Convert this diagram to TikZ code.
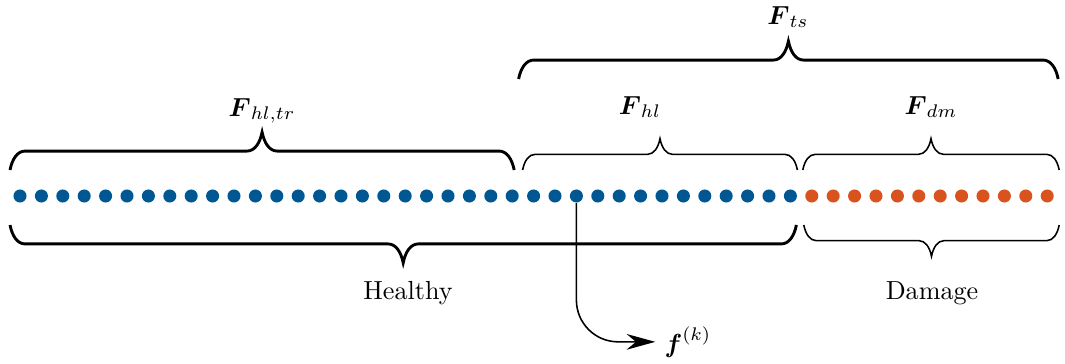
\documentclass[tikz,border=0pt]{standalone}
\usepackage{amsmath}
\usepackage{xcolor}
\usepackage{tikz}
\usetikzlibrary{arrows.meta, positioning, calc, decorations.pathreplacing}

\definecolor{hlblue}{RGB}{0,87,146}
\definecolor{dmorange}{RGB}{217,83,30}

\begin{document}
\begin{tikzpicture}[
    x=0.383pt, y=-0.383pt,
    dot/.style={circle, inner sep=0pt, minimum size=5pt},
    hl/.style={dot, fill=hlblue},
    dm/.style={dot, fill=dmorange},
    bigbrace/.style={decorate, decoration={brace, amplitude=5.8pt, transform={yscale=2.5}}, line width=1.1pt},
    smallbrace/.style={decorate, decoration={brace, amplitude=4.8pt, transform={yscale=2.5}}, line width=0.6pt},
    lbl/.style={anchor=base}
]
    \useasboundingbox (0,0) rectangle (1065,364);

    % samples
    \foreach \i in {1,...,37}
        \node[hl] (d\i) at ({20+21.4*(\i-1)},196) {};
    \foreach \i in {38,...,49}
        \node[dm] (d\i) at ({20+21.4*(\i-1)},196) {};

    % braces above
    \draw[bigbrace] ($(d1)+(-10,-26)$) -- ($(d24)+(2,-26)$);
    \draw[smallbrace] ($(d25)+(-11,-26)$) -- ($(d37)+(7,-26)$);
    \draw[smallbrace] ($(d38)+(-9,-26)$) -- ($(d49)+(12,-26)$);
    \draw[bigbrace] ($(d25)+(-15,-117)$) -- ($(d49)+(11,-117)$);

    % braces below
    \draw[bigbrace] ($(d37)+(6,29)$) -- ($(d1)+(-10,29)$);
    \draw[smallbrace] ($(d49)+(12,29)$) -- ($(d38)+(-8,29)$);

    \node[lbl] (hltr) at (262,116) {$\boldsymbol{F}_{hl,tr}$};
    \node[lbl] (hlf) at (640,114) {$\boldsymbol{F}_{hl}$};
    \node[lbl] (dmf) at (931,114) {$\boldsymbol{F}_{dm}$};
    \node[lbl] (tsf) at (788,24) {$\boldsymbol{F}_{ts}$};
    \node[lbl] (healthy) at (408,299) {Healthy};
    \node[lbl] (damage) at (932,299) {Damage};
    \node[lbl] (fk) at (688,352) {$\boldsymbol{f}^{(k)}$};

    \draw[-{Stealth[length=11pt, width=6pt]}, semithick, rounded corners=16pt] (d27) |- (fk.west);
\end{tikzpicture}
\end{document}
